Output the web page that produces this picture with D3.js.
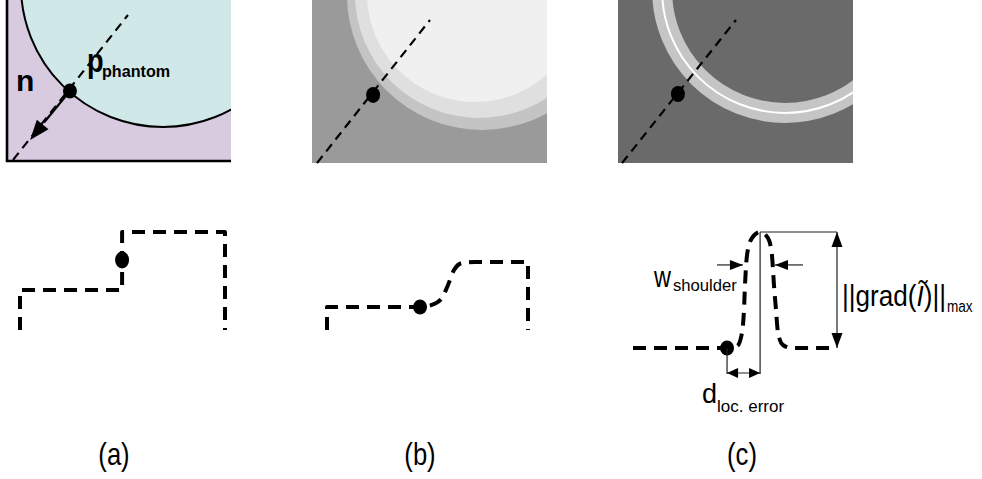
<!DOCTYPE html>
<html>
<head>
<meta charset="utf-8">
<script src="https://cdn.jsdelivr.net/npm/d3@7"></script>
<style>
  body { margin: 0; background: #fff; }
  text { font-family: "Liberation Sans", Arial, sans-serif; fill: #000; }
</style>
</head>
<body>
<svg id="chart"></svg>
<script>
const width = 982, height = 479;

// top row: three image panels, geometry in local units (100 across a panel)
const panelLabels = ["(a)", "(b)", "(c)"];
const panelBg = ["#d8cbe0", "#9a9a9a", "#6a6a6a"];
const discA = [69.6, -6.7, 63.4];                       // cx, cy, r
const discsB = [[72.3, -2.1, 57.4], [71.1, -2.6, 52.8], [69.4, -2.6, 46.0]];
const discBFill = ["#c4c4c4", "#dfdfdf", "#f0f0f0"];
const ringC = [71.1, -4.3, 48.1, 56.6];                 // cx, cy, inner r, outer r
const normals = [[[2.7, 71.4], [54.0, 6.7]], [[2.1, 69.4], [50.2, 8.5]], [[1.7, 69.4], [50.2, 8.5]]];
const edgePoints = [[28.1, 40.6], [26.0, 40.4], [25.5, 40.0]];
const normalTip = [10.3, 62.5];

// bottom row: intensity profiles (x 0..1 across, intensity 0..1)
const profileA = [[0, 0], [0, 0.408], [0.498, 0.408], [0.498, 1], [1, 1], [1, 0]];
const profileBLeft = [[0, 0], [0, 0.338]];
const profileBSmooth = [[0, 0.338], [0.463, 0.338], [0.522, 0.368], [0.572, 0.471], [0.602, 0.662],
                        [0.632, 0.882], [0.672, 0.985], [0.736, 1], [1, 1]];
const profileBRight = [[1, 1], [1, 0]];
const profileC = [[0, 0], [0.461, 0], [0.51, 0.017], [0.534, 0.129], [0.544, 0.328], [0.549, 0.543],
                  [0.559, 0.802], [0.583, 0.948], [0.623, 1], [0.662, 0.948], [0.681, 0.802],
                  [0.691, 0.543], [0.701, 0.328], [0.711, 0.129], [0.735, 0.026], [0.779, 0], [1, 0]];
const lowerDots = [[0.498, 0.714], [0.463, 0.338], [0.461, 0]];
const shoulderLevel = 0.716;
const shoulderEdges = [0.539, 0.696];

const svg = d3.select("#chart").attr("width", width).attr("height", height);
const defs = svg.append("defs");

const topX0 = [7, 312, 618], topX1 = [231, 547, 853], topY1 = [161, 163, 163];
const topScales = topX0.map((x0, i) => {
    const k = (topX1[i] - x0) / 100;
    return {
        x: d3.scaleLinear().domain([0, 100]).range([x0, topX1[i]]),
        y: d3.scaleLinear().domain([0, 100]).range([0, 100 * k]),
        k: k
    };
});

const lowLeft = [20, 327, 633], lowRight = [225, 528, 837];
const lowBottom = [330, 330, 348], lowTop = [232, 262, 232];
const lowScales = lowLeft.map((l, i) => ({
    x: d3.scaleLinear().domain([0, 1]).range([l, lowRight[i]]),
    y: d3.scaleLinear().domain([0, 1]).range([lowBottom[i], lowTop[i]])
}));

function arrowHead(g, tip, from, len, half) {
    const dx = tip[0] - from[0], dy = tip[1] - from[1];
    const d = Math.hypot(dx, dy), ux = dx / d, uy = dy / d;
    const bx = tip[0] - ux * len, by = tip[1] - uy * len;
    g.append("path")
        .attr("d", `M${tip[0]},${tip[1]}L${bx - uy * half},${by + ux * half}L${bx + uy * half},${by - ux * half}Z`)
        .attr("fill", "#000");
}

// text piece squeezed horizontally (the source font is a narrow sans)
function label(x, y, size, sx, str, opts) {
    opts = opts || {};
    const t = svg.append("text")
        .attr("transform", `translate(${x},${y}) scale(${sx},1)`)
        .attr("font-size", size)
        .attr("font-weight", opts.bold ? "bold" : null)
        .attr("text-anchor", opts.anchor || "start");
    if (str !== null) t.text(str);
    return t;
}

// ---- top panels
topScales.forEach((s, i) => {
    defs.append("clipPath").attr("id", "clip" + i)
        .append("rect")
        .attr("x", topX0[i]).attr("y", 0)
        .attr("width", topX1[i] - topX0[i]).attr("height", topY1[i]);

    const g = svg.append("g").attr("clip-path", `url(#clip${i})`);
    g.append("rect")
        .attr("x", topX0[i]).attr("y", 0)
        .attr("width", topX1[i] - topX0[i]).attr("height", topY1[i])
        .attr("fill", panelBg[i]);

    if (i === 0) {
        g.append("circle")
            .attr("cx", s.x(discA[0])).attr("cy", s.y(discA[1])).attr("r", discA[2] * s.k)
            .attr("fill", "#d0e8e8").attr("stroke", "#000").attr("stroke-width", 2);
    } else if (i === 1) {
        g.selectAll("circle.band").data(discsB).join("circle")
            .attr("class", "band")
            .attr("cx", d => s.x(d[0])).attr("cy", d => s.y(d[1])).attr("r", d => d[2] * s.k)
            .attr("fill", (d, j) => discBFill[j]);
    } else {
        const rMid = (ringC[2] + ringC[3]) / 2;
        g.append("circle")
            .attr("cx", s.x(ringC[0])).attr("cy", s.y(ringC[1])).attr("r", rMid * s.k)
            .attr("fill", "none").attr("stroke", "#c5c5c5")
            .attr("stroke-width", (ringC[3] - ringC[2]) * s.k);
        g.append("circle")
            .attr("cx", s.x(ringC[0])).attr("cy", s.y(ringC[1])).attr("r", rMid * s.k)
            .attr("fill", "none").attr("stroke", "#fff").attr("stroke-width", 2);
    }

    const n = normals[i];
    svg.append("line")
        .attr("x1", s.x(n[0][0])).attr("y1", s.y(n[0][1]))
        .attr("x2", s.x(n[1][0])).attr("y2", s.y(n[1][1]))
        .attr("stroke", "#000").attr("stroke-width", 2.2)
        .attr("stroke-dasharray", "9,6");

    svg.append("ellipse")
        .attr("cx", s.x(edgePoints[i][0])).attr("cy", s.y(edgePoints[i][1]))
        .attr("rx", 7).attr("ry", i === 0 ? 7.5 : 8)
        .attr("fill", "#000");
});

// panel (a) border, normal arrow and labels
{
    const s = topScales[0];
    svg.append("path")
        .attr("d", `M${topX0[0]},0V${topY1[0]}H${topX1[0]}`)
        .attr("fill", "none").attr("stroke", "#000").attr("stroke-width", 2.6);

    const p0 = [s.x(edgePoints[0][0]), s.y(edgePoints[0][1])];
    const tip = [s.x(normalTip[0]), s.y(normalTip[1])];
    svg.append("line")
        .attr("x1", p0[0]).attr("y1", p0[1])
        .attr("x2", (p0[0] + tip[0]) / 2 - 6).attr("y2", (p0[1] + tip[1]) / 2 + 7)
        .attr("stroke", "#000").attr("stroke-width", 2.2);
    arrowHead(svg, tip, p0, 20, 7.5);

    label(16, 91, 30, 1, "n", {bold: true});
    label(87, 72, 34, 0.8, "p", {bold: true});
    label(102, 77, 17, 0.95, "phantom", {bold: true});
}

// ---- bottom profiles
const profileStyle = sel => sel
    .attr("fill", "none").attr("stroke", "#000").attr("stroke-width", 4)
    .attr("stroke-dasharray", "13,8").attr("stroke-linejoin", "round");

{
    const s = lowScales[0];
    const line = d3.line().x(d => s.x(d[0])).y(d => s.y(d[1]));
    svg.append("path").attr("d", line(profileA)).call(profileStyle);
}
{
    const s = lowScales[1];
    const lin = d3.line().x(d => s.x(d[0])).y(d => s.y(d[1]));
    const smooth = d3.line().x(d => s.x(d[0])).y(d => s.y(d[1])).curve(d3.curveMonotoneX);
    const dStr = lin(profileBLeft) + smooth(profileBSmooth).replace(/^M/, "L") +
        lin(profileBRight).replace(/^M/, "L");
    svg.append("path").attr("d", dStr).call(profileStyle);
}
{
    const s = lowScales[2];
    const smooth = d3.line().x(d => s.x(d[0])).y(d => s.y(d[1])).curve(d3.curveMonotoneX);
    svg.append("path").attr("d", smooth(profileC)).call(profileStyle);
}

lowerDots.forEach((d, i) => {
    svg.append("ellipse")
        .attr("cx", lowScales[i].x(d[0])).attr("cy", lowScales[i].y(d[1]))
        .attr("rx", 7).attr("ry", i === 0 ? 8.5 : 7.5)
        .attr("fill", "#000");
});

// ---- annotations on (c)
{
    const s = lowScales[2];
    const thin = sel => sel.attr("stroke", "#222").attr("stroke-width", 1.2);
    const peakX = s.x(profileC[8][0]), peakY = s.y(1), baseY = s.y(0);
    const dotX = s.x(lowerDots[2][0]), rightX = s.x(1);
    const dimY = baseY + 25;

    svg.append("line").attr("x1", peakX).attr("x2", peakX).attr("y1", peakY).attr("y2", dimY + 1).call(thin);
    svg.append("line").attr("x1", dotX).attr("x2", dotX).attr("y1", baseY).attr("y2", dimY + 1).call(thin);
    svg.append("line").attr("x1", peakX).attr("x2", rightX).attr("y1", peakY).attr("y2", peakY).call(thin);

    svg.append("line").attr("x1", dotX).attr("x2", peakX).attr("y1", dimY).attr("y2", dimY).call(thin);
    arrowHead(svg, [dotX, dimY], [peakX, dimY], 11, 5);
    arrowHead(svg, [peakX, dimY], [dotX, dimY], 11, 5);

    svg.append("line").attr("x1", rightX).attr("x2", rightX).attr("y1", peakY).attr("y2", baseY).call(thin);
    arrowHead(svg, [rightX, peakY], [rightX, baseY], 15, 5.5);
    arrowHead(svg, [rightX, baseY], [rightX, peakY], 15, 5.5);

    const wy = s.y(shoulderLevel);
    const wl = s.x(shoulderEdges[0]), wr = s.x(shoulderEdges[1]);
    svg.append("line").attr("x1", wl - 26).attr("x2", wl).attr("y1", wy).attr("y2", wy).call(thin);
    arrowHead(svg, [wl, wy], [wl - 26, wy], 13, 5);
    svg.append("line").attr("x1", wr + 28).attr("x2", wr).attr("y1", wy).attr("y2", wy).call(thin);
    arrowHead(svg, [wr, wy], [wr + 28, wy], 13, 5);

    label(654, 287, 30, 0.78, "w");
    label(673, 291, 17, 0.98, "shoulder");

    const gt = label(842, 306, 30, 0.87, null);
    gt.append("tspan").text("||grad(");
    gt.append("tspan").attr("font-style", "italic").text("\u0128");
    gt.append("tspan").text(")||");
    label(947, 312, 17, 0.8, "max");

    label(702, 403, 27, 1, "d");
    label(717, 412, 17, 1, "loc. error");
}

// ---- captions
const captionX = [114, 420, 742];
panelLabels.forEach((d, i) => label(captionX[i], 465, 32, 0.8, d, {anchor: "middle"}));
</script>
</body>
</html>
